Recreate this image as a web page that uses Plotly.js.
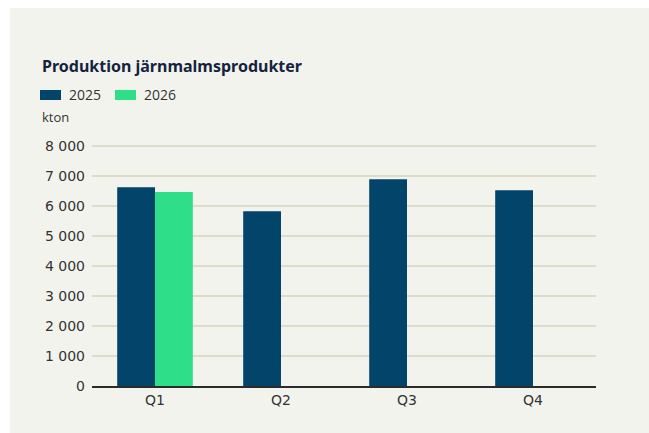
<!DOCTYPE html>
<html>
<head>
<meta charset="utf-8">
<script src="https://cdn.plot.ly/plotly-3.0.1.min.js"></script>
<style>
  html, body { margin: 0; padding: 0; background: #ffffff; }
  #chart { position: absolute; left: 10px; top: 8px; width: 639px; height: 425px; }
</style>
</head>
<body>
<div id="chart"></div>
<script>
const chartTitle = "Produktion järnmalmsprodukter";
const unitLabel = "kton";
const quarters = ["Q1", "Q2", "Q3", "Q4"];
const seriesNames = ["2025", "2026"];
const values2025 = [6630, 5830, 6900, 6530];
const values2026 = [6470, null, null, null];
const yTickVals = [0, 1000, 2000, 3000, 4000, 5000, 6000, 7000, 8000];
const yTickText = ["0", "1 000", "2 000", "3 000", "4 000", "5 000", "6 000", "7 000", "8 000"];
const colors = ["#02446a", "#2ede89"];

const W = 639, H = 425;
const M = { l: 82, r: 53, t: 137, b: 47 };
const PW = W - M.l - M.r, PH = H - M.t - M.b;
const px = x => (x - M.l) / PW;
const py = y => (H - M.b - y) / PH;

const font = "'Open Sans', 'Noto Sans', sans-serif";
const tickFont = "'DejaVu Sans', sans-serif";

const traces = [
  { type: "bar", name: seriesNames[0], x: quarters, y: values2025, marker: { color: colors[0] }, hoverinfo: "x+y+name" },
  { type: "bar", name: seriesNames[1], x: quarters, y: values2026, marker: { color: colors[1] }, hoverinfo: "x+y+name" }
];

const shapes = [], annotations = [];
annotations.push({ xref: "paper", yref: "paper", x: px(30), y: py(58), xanchor: "left", yanchor: "middle",
  text: "<b>" + chartTitle + "</b>", showarrow: false, font: { family: "'Noto Sans', sans-serif", size: 16, color: "#15233f" } });
const legX = [30, 105];
seriesNames.forEach((n, i) => {
  shapes.push({ type: "rect", xref: "paper", yref: "paper", x0: px(legX[i]), x1: px(legX[i] + 21), y0: py(92), y1: py(82),
    fillcolor: colors[i], line: { width: 0 } });
  annotations.push({ xref: "paper", yref: "paper", x: px(legX[i] + 27), y: py(86.5), xanchor: "left", yanchor: "middle",
    text: n, showarrow: false, font: { family: font, size: 14, color: "#333333" } });
});
annotations.push({ xref: "paper", yref: "paper", x: px(30), y: py(109), xanchor: "left", yanchor: "middle",
  text: unitLabel, showarrow: false, font: { family: font, size: 13, color: "#333333" } });

const layout = {
  width: W, height: H,
  margin: M,
  paper_bgcolor: "#f3f3ee",
  plot_bgcolor: "rgba(0,0,0,0)",
  showlegend: false,
  barmode: "group",
  bargap: 0.4,
  bargroupgap: 0,
  font: { family: font, color: "#333333" },
  xaxis: {
    type: "category",
    showgrid: false,
    showline: true, linecolor: "#2b2b2b", linewidth: 2,
    ticks: "", tickfont: { family: tickFont, size: 14, color: "#333333" },
    fixedrange: true
  },
  yaxis: {
    range: [0, 8040],
    tickvals: yTickVals, ticktext: yTickText,
    showgrid: true, gridcolor: "#dcdccb", gridwidth: 1.5,
    zeroline: false,
    showline: false,
    ticks: "", ticklabelstandoff: 6,
    tickfont: { family: tickFont, size: 14, color: "#333333" },
    fixedrange: true
  },
  shapes: shapes,
  annotations: annotations
};

Plotly.newPlot("chart", traces, layout, { displayModeBar: false, staticPlot: true });
</script>
</body>
</html>
